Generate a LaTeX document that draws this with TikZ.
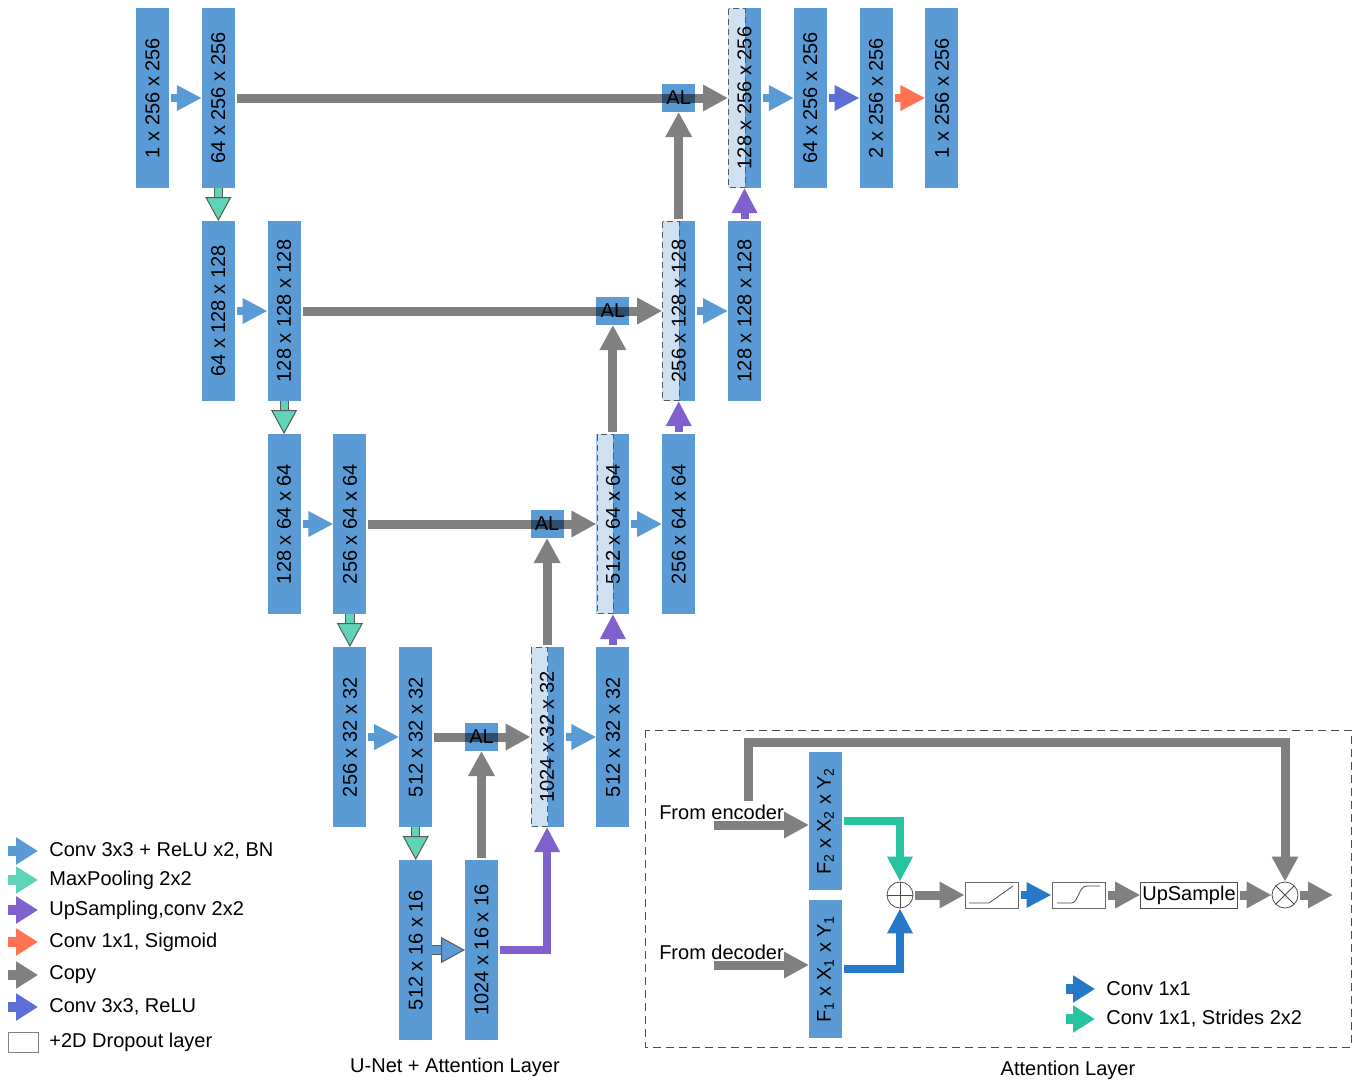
\documentclass[tikz,border=0pt]{standalone}
\usepackage{fontspec}
\setmainfont{Liberation Sans}
\usetikzlibrary{arrows.meta, positioning, calc}

\definecolor{blkblue}{RGB}{91,155,213}
\definecolor{dropblue}{RGB}{207,224,241}
\definecolor{copygray}{RGB}{128,128,128}
\definecolor{poolteal}{RGB}{96,212,184}
\definecolor{uppurple}{RGB}{128,96,204}
\definecolor{sigorange}{RGB}{255,115,82}
\definecolor{relublue}{RGB}{91,111,214}
\definecolor{attblue}{RGB}{38,120,200}
\definecolor{attteal}{RGB}{39,195,160}

\begin{document}
\begin{tikzpicture}[x=0.5pt, y=-0.5pt,
    font=\fontsize{10}{12}\selectfont,
    blk/.style={rectangle, fill=blkblue, minimum width=16.5pt, minimum height=90pt, inner sep=0pt, outer sep=0pt},
    drop/.style={blk, path picture={
        \fill[dropblue] (path picture bounding box.north west) rectangle ([xshift=8.5pt]path picture bounding box.south west);
        \draw[black!65, line width=0.5pt, dash pattern=on 3pt off 2pt] ([xshift=0.3pt, yshift=-0.3pt]path picture bounding box.north west) rectangle ([xshift=8.5pt, yshift=0.3pt]path picture bounding box.south west);}},
    al/.style={rectangle, fill=blkblue, minimum width=16.5pt, minimum height=14pt, inner sep=0pt, outer sep=0pt},
    arr/.style={line width=4pt, shorten <=1pt, -{Triangle[length=12.5pt, width=12pt]}},
    convarr/.style={arr, draw=blkblue},
    reluarr/.style={arr, draw=relublue},
    sigarr/.style={arr, draw=sigorange},
    uparr/.style={arr, draw=uppurple},
    c11arr/.style={arr, draw=attblue},
    strarr/.style={arr, draw=attteal},
    cpyarr/.style={line width=4.5pt, draw=copygray, shorten <=1pt, -{Triangle[length=12.5pt, width=12.5pt]}},
    olarr/.style={line width=4.6pt, draw=black!65, -{Triangle[length=12pt, width=13pt, fill=#1, line width=0.5pt]},
        postaction={draw=#1, line width=3.6pt, -, shorten >=12pt}},
    poolarr/.style={olarr=poolteal},
    lgarr/.style={line width=5pt, draw=#1, shorten >=4.5pt, -{Triangle[length=11pt, width=13pt]}},
    lgtxt/.style={anchor=west, inner sep=1pt},
    opnode/.style={circle, draw=black!70, line width=0.4pt, minimum size=13pt, inner sep=0pt},
    sbox/.style={rectangle, draw=black!60, line width=0.5pt, minimum width=26.5pt, minimum height=13pt, inner sep=0pt}
]
\useasboundingbox (0,0) rectangle (1357,1083);

% encoder
\node[blk] (e1a) at (152.5,98) {\rotatebox{90}{1 x 256 x 256}};
\node[blk, right=16.4pt of e1a] (e1b) {\rotatebox{90}{64 x 256 x 256}};
\node[blk, below=16.5pt of e1b] (e2a) {\rotatebox{90}{64 x 128 x 128}};
\node[blk, right=16.4pt of e2a] (e2b) {\rotatebox{90}{128 x 128 x 128}};
\node[blk, below=16.5pt of e2b] (e3a) {\rotatebox{90}{128 x 64 x 64}};
\node[blk, right=16.4pt of e3a] (e3b) {\rotatebox{90}{256 x 64 x 64}};
\node[blk, below=16.5pt of e3b] (e4a) {\rotatebox{90}{256 x 32 x 32}};
\node[blk, right=16.4pt of e4a] (e4b) {\rotatebox{90}{512 x 32 x 32}};
\node[blk, below=16.5pt of e4b] (e5a) {\rotatebox{90}{512 x 16 x 16}};
\node[blk, right=16.4pt of e5a] (e5b) {\rotatebox{90}{1024 x 16 x 16}};

% decoder
\node[drop, right=49.2pt of e4b] (d4a) {\rotatebox{90}{1024 x 32 x 32}};
\node[blk, right=16.4pt of d4a] (d4b) {\rotatebox{90}{512 x 32 x 32}};
\node[drop, above=16.5pt of d4b] (d3a) {\rotatebox{90}{512 x 64 x 64}};
\node[blk, right=16.4pt of d3a] (d3b) {\rotatebox{90}{256 x 64 x 64}};
\node[drop, above=16.5pt of d3b] (d2a) {\rotatebox{90}{256 x 128 x 128}};
\node[blk, right=16.4pt of d2a] (d2b) {\rotatebox{90}{128 x 128 x 128}};
\node[drop, above=16.5pt of d2b] (d1a) {\rotatebox{90}{128 x 256 x 256}};
\node[blk, right=16.4pt of d1a] (d1b) {\rotatebox{90}{64 x 256 x 256}};
\node[blk, right=16.4pt of d1b] (d1c) {\rotatebox{90}{2 x 256 x 256}};
\node[blk, right=16.4pt of d1c] (d1d) {\rotatebox{90}{1 x 256 x 256}};

% skip connections
\draw[cpyarr] (e1b) -- (d1a);
\draw[cpyarr] (e2b) -- (d2a);
\draw[cpyarr] (e3b) -- (d3a);
\draw[cpyarr] (e4b) -- (d4a);

\begin{scope}[blend mode=multiply]
\node[al] (al1) at (d2a |- e1b) {AL};
\node[al] (al2) at (d3a |- e2b) {AL};
\node[al] (al3) at (d4a |- e3b) {AL};
\node[al] (al4) at (e5b |- e4b) {AL};
\end{scope}

\draw[cpyarr] (d2a) -- (al1);
\draw[cpyarr] (d3a) -- (al2);
\draw[cpyarr] (d4a) -- (al3);
\draw[cpyarr] (e5b) -- (al4);

% convolutions
\draw[convarr] (e1a) -- (e1b);
\draw[convarr] (e2a) -- (e2b);
\draw[convarr] (e3a) -- (e3b);
\draw[convarr] (e4a) -- (e4b);
\draw[olarr=blkblue] (e5a) -- (e5b);
\draw[convarr] (d4a) -- (d4b);
\draw[convarr] (d3a) -- (d3b);
\draw[convarr] (d2a) -- (d2b);
\draw[convarr] (d1a) -- (d1b);
\draw[reluarr] (d1b) -- (d1c);
\draw[sigarr] (d1c) -- (d1d);

% pooling and upsampling
\draw[poolarr] (e1b) -- (e2a);
\draw[poolarr] (e2b) -- (e3a);
\draw[poolarr] (e3b) -- (e4a);
\draw[poolarr] (e4b) -- (e5a);
\draw[uparr] (e5b) -| (d4a);
\draw[uparr] (d4b) -- (d3a);
\draw[uparr] (d3b) -- (d2a);
\draw[uparr] (d2b) -- (d1a);

% legend
\node[lgtxt] (lg1) at (47,851) {Conv 3x3 + ReLU x2, BN};
\node[lgtxt] (lg2) at (47,880) {MaxPooling 2x2};
\node[lgtxt] (lg3) at (47,910) {UpSampling,conv 2x2};
\node[lgtxt] (lg4) at (47,942) {Conv 1x1, Sigmoid};
\node[lgtxt] (lg5) at (47,975) {Copy};
\node[lgtxt] (lg6) at (47,1007) {Conv 3x3, ReLU};
\node[lgtxt] (lg7) at (47,1042) {+2D Dropout layer};
\coordinate (lga1) at (8,851);
\coordinate (lga2) at (8,880);
\coordinate (lga3) at (8,910);
\coordinate (lga4) at (8,942);
\coordinate (lga5) at (8,975);
\coordinate (lga6) at (8,1007);
\draw[lgarr=blkblue] (lga1) -- (lg1);
\draw[lgarr=poolteal] (lga2) -- (lg2);
\draw[lgarr=uppurple] (lga3) -- (lg3);
\draw[lgarr=sigorange] (lga4) -- (lg4);
\draw[lgarr=copygray] (lga5) -- (lg5);
\draw[lgarr=relublue] (lga6) -- (lg6);
\node[draw=black!50, line width=0.5pt, minimum width=15pt, minimum height=10pt, inner sep=0pt] (lgbox) at (23,1042) {};

\node (cap1) at (455,1067) {U-Net + Attention Layer};

% attention layer
\draw[black!70, line width=0.5pt, dash pattern=on 4pt off 2.5pt] (645,730) rectangle (1351,1047);
\node[blk, minimum height=69pt] (f2) at (825.5,821) {\rotatebox{90}{F\textsubscript{2} x X\textsubscript{2} x Y\textsubscript{2}}};
\node[blk, minimum height=69pt] (f1) at (825.5,969) {\rotatebox{90}{F\textsubscript{1} x X\textsubscript{1} x Y\textsubscript{1}}};
\node (fromenc) at (721.5,812) {From encoder};
\node (fromdec) at (721.5,952) {From decoder};
\coordinate (encin) at (712,825);
\coordinate (decin) at (712,965);
\draw[cpyarr] (encin) -- (encin -| f2.west);
\draw[cpyarr] (decin) -- (decin -| f1.west);

\node[opnode, path picture={\draw[black!70, line width=0.4pt]
    (path picture bounding box.north) -- (path picture bounding box.south)
    (path picture bounding box.west) -- (path picture bounding box.east);}] (add) at (900,895) {};
\node[sbox, path picture={\draw[black!70, line width=0.4pt]
    ([shift={(2pt,2.5pt)}]path picture bounding box.south west) -- ([shift={(12pt,2.5pt)}]path picture bounding box.south west)
    -- ([shift={(24pt,11pt)}]path picture bounding box.south west);}] (relu) at (991.5,895) {};
\node[sbox, path picture={\draw[black!70, line width=0.4pt]
    ([shift={(2.5pt,2.5pt)}]path picture bounding box.south west) -- ([shift={(9.5pt,2.5pt)}]path picture bounding box.south west)
    .. controls ([shift={(13.5pt,2.5pt)}]path picture bounding box.south west) and ([shift={(13pt,11pt)}]path picture bounding box.south west)
    .. ([shift={(17.5pt,11pt)}]path picture bounding box.south west) -- ([shift={(24pt,11pt)}]path picture bounding box.south west);}] (sig) at (1078.5,895) {};
\node[draw=black!70, line width=0.5pt, minimum height=13pt, inner xsep=0.8pt, inner ysep=0pt] (ups) at (1189,895) {UpSample};
\node[opnode, path picture={\draw[black!70, line width=0.4pt]
    ([shift={(45:8pt)}]path picture bounding box.center) -- ([shift={(225:8pt)}]path picture bounding box.center)
    ([shift={(135:8pt)}]path picture bounding box.center) -- ([shift={(315:8pt)}]path picture bounding box.center);}] (mul) at (1285,895) {};
\coordinate (attout) at (1333,895);
\coordinate (skipst) at (748,803);
\coordinate (skiptop) at (748,742);

\draw[strarr] (f2) -| (add);
\draw[c11arr] (f1) -| (add);
\draw[cpyarr] (add) -- (relu);
\draw[c11arr] (relu) -- (sig);
\draw[cpyarr] (sig) -- (ups);
\draw[cpyarr] (ups) -- (mul);
\draw[cpyarr] (mul) -- (attout);
\draw[cpyarr] (skipst) -- (skiptop) -| (mul);

\node[lgtxt] (att1) at (1104,989) {Conv 1x1};
\node[lgtxt] (att2) at (1104,1019) {Conv 1x1, Strides 2x2};
\coordinate (atta1) at (1066,989);
\coordinate (atta2) at (1066,1019);
\draw[lgarr=attblue] (atta1) -- (att1);
\draw[lgarr=attteal] (atta2) -- (att2);

\node (cap2) at (1068,1070) {Attention Layer};
\end{tikzpicture}
\end{document}
